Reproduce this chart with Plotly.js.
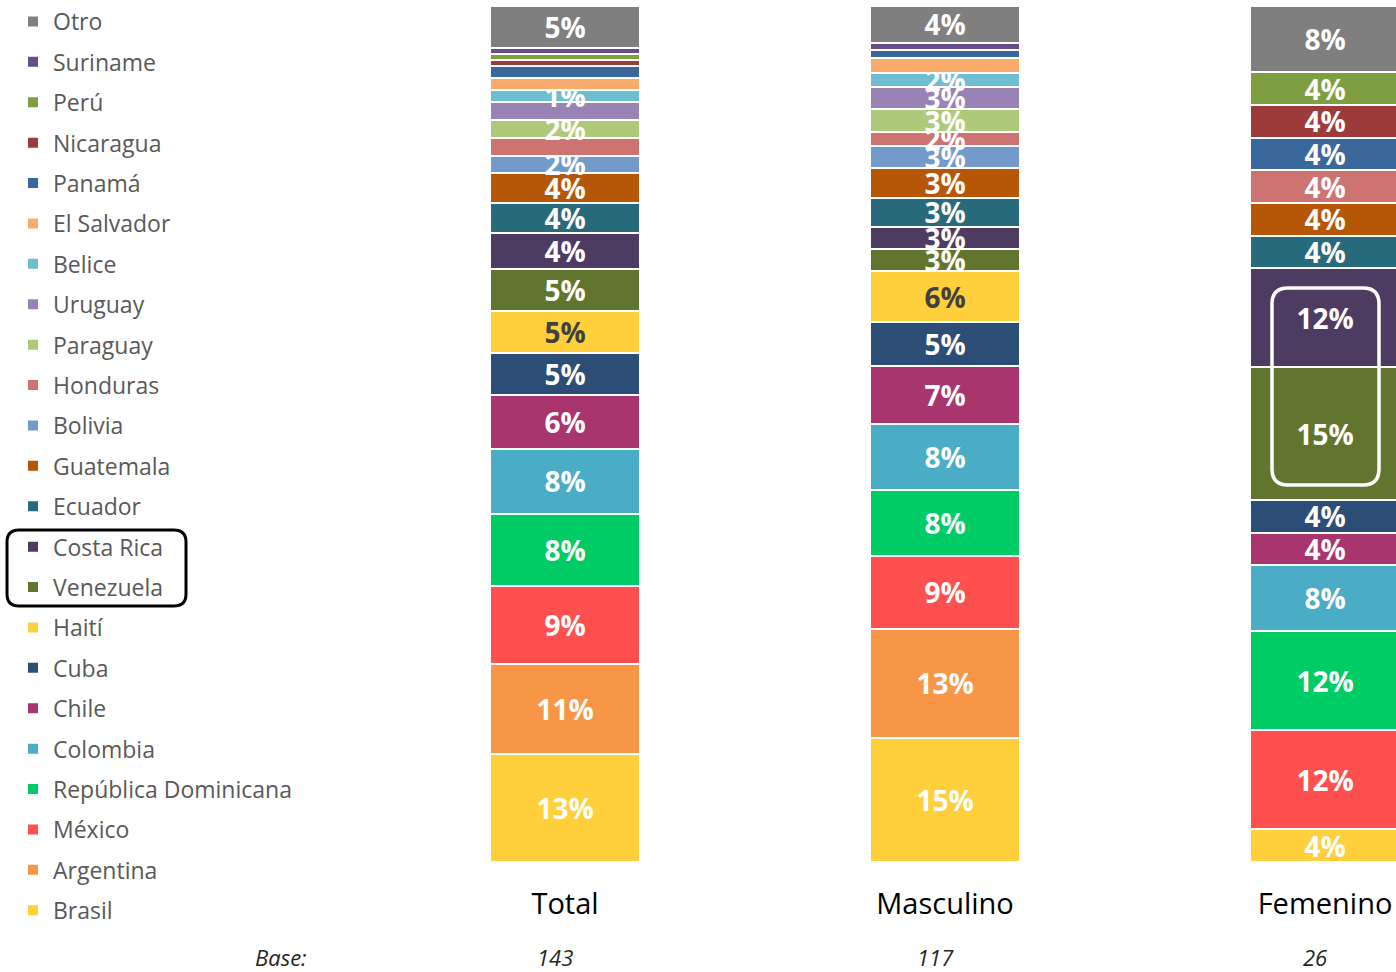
<!DOCTYPE html>
<html><head><meta charset="utf-8">
<script src="https://cdn.plot.ly/plotly-3.0.1.min.js"></script>
<style>html,body{margin:0;padding:0;background:#fff;}</style>
</head><body><div id="chart" style="width:1396px;height:972px;"></div>
<script>
const categories = ['Total', 'Masculino', 'Femenino'];
const bases = ['143', '117', '26'];
const countries = ['Brasil', 'Argentina', 'México', 'República Dominicana', 'Colombia', 'Chile', 'Cuba', 'Haití',
  'Venezuela', 'Costa Rica', 'Ecuador', 'Guatemala', 'Bolivia', 'Honduras', 'Paraguay', 'Uruguay', 'Belice',
  'El Salvador', 'Panamá', 'Nicaragua', 'Perú', 'Suriname', 'Otro'];
const totalPct     = [12.6, 10.6, 9.1, 8.4, 7.7, 6.3, 4.9, 4.9, 4.9, 4.2, 3.5, 3.5, 2.1, 2.1, 2.1, 2.1, 1.4, 1.4, 1.4, 0.7, 0.7, 0.7, 4.9];
const masculinoPct = [14.5, 12.8, 8.5, 7.7, 7.7, 6.8, 5.1, 6.0, 2.6, 2.6, 3.4, 3.4, 2.6, 1.7, 2.6, 2.6, 1.7, 1.7, 0.9, 0, 0, 0.9, 4.3];
const femeninoPct  = [3.8, 0, 11.5, 11.5, 7.7, 3.8, 3.8, 0, 15.4, 11.5, 3.8, 3.8, 0, 3.8, 0, 0, 0, 0, 3.8, 3.8, 3.8, 0, 7.7];
const colors = ['#FFCF3C', '#F79646', '#FF5050', '#00CC66', '#4BACC6', '#A8356E', '#2C4D76', '#FFCF3C',
  '#62752F', '#4E3B62', '#276A7C', '#B65708', '#729ACA', '#CD7371', '#AFC97A', '#9983B5', '#6FBDD1',
  '#F9AB6B', '#3A679C', '#9C3B3A', '#7F9E42', '#664F88', '#7F7F7F'];
const darkLabelCountries = ['Haití'];
const hiddenLabelsTotal = ['Suriname', 'Perú', 'Nicaragua', 'Panamá', 'El Salvador', 'Uruguay', 'Honduras'];
const hiddenLabelsMasculino = ['Suriname', 'Panamá', 'El Salvador'];

const FONT = 'Open Sans, Noto Sans, sans-serif';
const W = 1396, H = 972, ML = 375, MR = 0, MT = 6, MB = 110;
const PW = W - ML - MR, PH = H - MT - MB;

function lbl(v, hidden) { return (v > 0 && !hidden) ? Math.round(v) + '%' : ''; }

const traces = countries.map((c, i) => {
  const vals = [totalPct[i], masculinoPct[i], femeninoPct[i]];
  const texts = [
    lbl(vals[0], hiddenLabelsTotal.includes(c)),
    lbl(vals[1], hiddenLabelsMasculino.includes(c)),
    lbl(vals[2], false)
  ];
  return {
    type: 'bar', name: c, x: categories, y: vals,
    legendgroup: c, legendrank: countries.length - i,
    marker: { color: colors[i], line: { color: '#FFFFFF', width: 2 } },
    text: texts, textposition: 'inside', insidetextanchor: 'middle', textangle: 0,
    constraintext: 'none', cliponaxis: false,
    textfont: { family: FONT, size: 28, weight: 'bold', color: darkLabelCountries.includes(c) ? '#404040' : '#FFFFFF' },
    hoverinfo: 'name+y'
  };
});

// pixel -> paper helpers for decorative rounded boxes
function px2x(px) { return (px - ML) / PW; }
function px2y(py) { return (H - MB - py) / PH; }
function roundedBox(x0, y0, x1, y1, r) {
  const X = px2x, Y = px2y;
  return 'M' + X(x0 + r) + ',' + Y(y0) +
    ' L' + X(x1 - r) + ',' + Y(y0) + ' Q' + X(x1) + ',' + Y(y0) + ' ' + X(x1) + ',' + Y(y0 + r) +
    ' L' + X(x1) + ',' + Y(y1 - r) + ' Q' + X(x1) + ',' + Y(y1) + ' ' + X(x1 - r) + ',' + Y(y1) +
    ' L' + X(x0 + r) + ',' + Y(y1) + ' Q' + X(x0) + ',' + Y(y1) + ' ' + X(x0) + ',' + Y(y1 - r) +
    ' L' + X(x0) + ',' + Y(y0 + r) + ' Q' + X(x0) + ',' + Y(y0) + ' ' + X(x0 + r) + ',' + Y(y0) + ' Z';
}

const annotations = categories.map((c, i) => ({
  x: c, xref: 'x', y: px2y(957), yref: 'paper', xshift: -10,
  text: '<i>' + bases[i] + '</i>', showarrow: false,
  font: { family: FONT, size: 22, color: '#262626' }, xanchor: 'center', yanchor: 'middle'
}));
annotations.push({
  x: px2x(281), xref: 'paper', y: px2y(957), yref: 'paper', text: '<i>Base:</i>', showarrow: false,
  font: { family: FONT, size: 22, color: '#262626' }, xanchor: 'center', yanchor: 'middle'
});

const layout = {
  width: W, height: H,
  margin: { l: ML, r: MR, t: MT, b: MB },
  barmode: 'stack', barnorm: 'percent', bargap: 0.605,
  paper_bgcolor: '#FFFFFF', plot_bgcolor: '#FFFFFF',
  font: { family: FONT },
  xaxis: {
    type: 'category', range: [-0.5, -0.5 + PW / 380], fixedrange: true,
    showgrid: false, zeroline: false, showline: false,
    ticks: 'outside', ticklen: 16, tickcolor: 'rgba(0,0,0,0)',
    tickfont: { family: FONT, size: 29, color: '#000000' }
  },
  yaxis: { range: [0, 100], visible: false, fixedrange: true },
  showlegend: true,
  legend: {
    x: px2x(13), xanchor: 'left', y: px2y(0), yanchor: 'top',
    traceorder: 'grouped', tracegroupgap: 7.5, maxheight: 972,
    font: { family: FONT, size: 23, color: '#595959' },
    bgcolor: 'rgba(0,0,0,0)', borderwidth: 0, itemclick: false, itemdoubleclick: false
  },
  shapes: [
    { type: 'path', xref: 'paper', yref: 'paper', path: roundedBox(7, 530, 186, 606, 12),
      line: { color: '#000000', width: 3 }, fillcolor: 'rgba(0,0,0,0)' },
    { type: 'path', xref: 'paper', yref: 'paper', path: roundedBox(1272, 288, 1379, 485, 16),
      line: { color: '#FFFFFF', width: 3.5 }, fillcolor: 'rgba(0,0,0,0)' }
  ],
  annotations: annotations
};

Plotly.newPlot('chart', traces, layout, { displayModeBar: false, staticPlot: true });
</script>
</body></html>
